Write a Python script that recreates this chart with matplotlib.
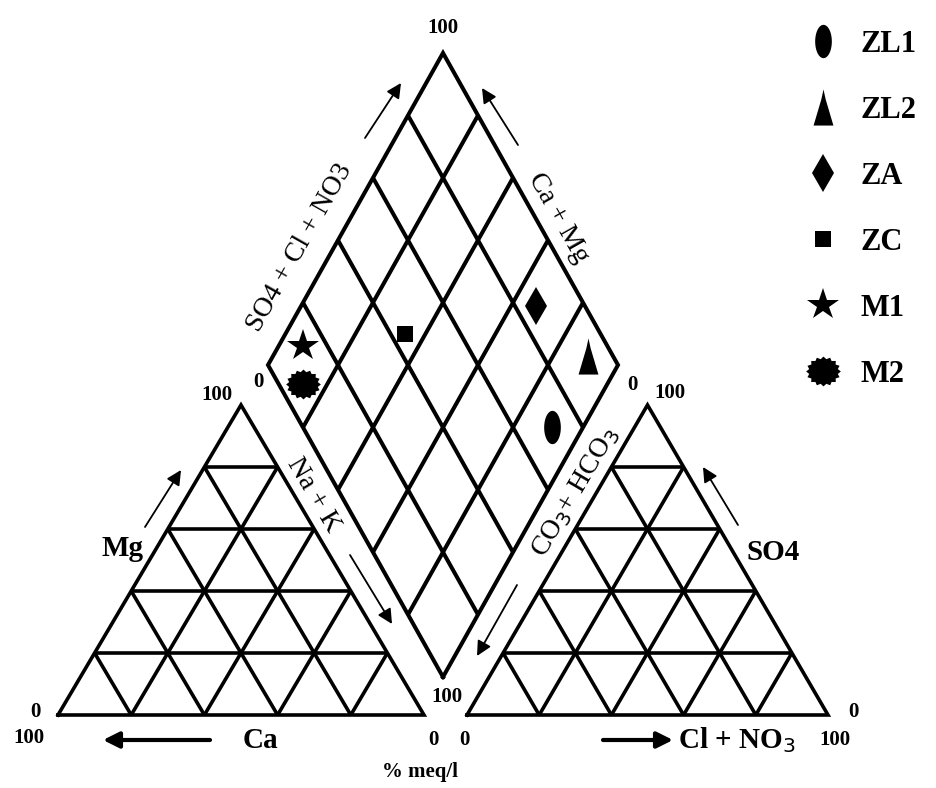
import numpy as np
import matplotlib
matplotlib.use("Agg")
import matplotlib.pyplot as plt

# ---------------- data ----------------
samples = ["ZL1", "ZL2", "ZA", "ZC", "M1", "M2"]
ca_mg = [9, 10, 33, 66, 93, 87]          # % meq/l Ca + Mg (cations)
so4_cl_no3 = [71, 93, 86, 44, 13, 7]     # % meq/l SO4 + Cl + NO3 (anions)
tick_labels_grid = 5                      # grid every 20 %

# ---------------- marker shapes ----------------
t = np.linspace(0, 2 * np.pi, 60)
ellipse = np.column_stack([0.5 * np.cos(t), np.sin(t)])
tall_tri = np.array([[-0.55, -1.0], [0.55, -1.0], [0.12, 0.45], [0.0, 1.0], [-0.12, 0.45], [-0.55, -1.0]])
tb = np.linspace(0, 2 * np.pi, 33)[:-1]
rb = np.where(np.arange(32) % 2 == 0, 1.0, 0.84)
burst = np.column_stack([rb * np.cos(tb), 0.86 * rb * np.sin(tb)])
markers = [ellipse, tall_tri, "d", "s", "*", burst]
msizes = [24, 26, 19, 12, 24, 25]

plt.rcParams["font.family"] = ["Liberation Serif", "DejaVu Serif"]
fig = plt.figure(figsize=(9.36, 7.88), dpi=100)
ax = fig.add_axes([0, 0, 1, 1])
ax.set_xlim(0, 936)
ax.set_ylim(788, 0)
ax.axis("off")

LW = 2.6
LWD = 2.9

# ---------------- geometry of the Piper frame ----------------
Ltri = (np.array([58.0, 715.0]), np.array([424.0, 715.0]), np.array([241.0, 405.0]))
Rtri = (np.array([467.0, 715.0]), np.array([828.0, 715.0]), np.array([647.5, 405.0]))
Dbot = np.array([443.0, 677.0])
Dleft = np.array([268.0, 365.0])
Dright = np.array([618.0, 365.0])
Dtop = Dleft + Dright - Dbot


def seg(p, q, lw):
    ax.plot([p[0], q[0]], [p[1], q[1]], color="black", lw=lw, solid_capstyle="butt", solid_joinstyle="miter")


def draw_triangle(A, B, C):
    ax.plot([A[0], B[0], C[0], A[0]], [A[1], B[1], C[1], A[1]], color="black", lw=LW, solid_joinstyle="miter")
    n = tick_labels_grid
    for i in range(1, n):
        f = i / n
        seg(A + f * (C - A), B + f * (C - B), LW)
        P = A + f * (B - A)
        seg(P, P + (1 - f) * (C - A), LW)
        seg(P, P + f * (C - B), LW)


draw_triangle(*Ltri)
draw_triangle(*Rtri)

ax.plot([Dbot[0], Dleft[0], Dtop[0], Dright[0], Dbot[0]],
        [Dbot[1], Dleft[1], Dtop[1], Dright[1], Dbot[1]], color="black", lw=LWD, solid_joinstyle="miter")
n = tick_labels_grid
for i in range(1, n):
    f = i / n
    P = Dbot + f * (Dleft - Dbot)
    seg(P, P + (Dright - Dbot), LWD)
    Q = Dbot + f * (Dright - Dbot)
    seg(Q, Q + (Dleft - Dbot), LWD)

# ---------------- sample points ----------------
handles = []
for name, c, a, m, s in zip(samples, ca_mg, so4_cl_no3, markers, msizes):
    p = Dbot + (c / 100.0) * (Dleft - Dbot) + (a / 100.0) * (Dright - Dbot)
    h, = ax.plot([p[0]], [p[1]], linestyle="none", marker=m, ms=s, color="black",
                 markeredgewidth=0, label=name)
    handles.append(h)

leg = ax.legend(handles=handles, loc="upper left", bbox_to_anchor=(0.843, 0.985),
                frameon=False, labelspacing=1.21, handlelength=1.0,
                handletextpad=0.75, borderaxespad=0.2,
                prop={"family": "Liberation Serif", "weight": "bold", "size": 22})

# ---------------- texts ----------------
num = dict(fontsize=15, fontweight="bold", ha="center", va="center")
for txt, x, y in [("100", 443, 28), ("0", 258, 382), ("0", 632, 385), ("100", 447, 697),
                  ("100", 217, 395), ("0", 35, 712), ("100", 29, 738), ("0", 433, 740),
                  ("0", 464, 740), ("100", 670, 393), ("0", 853, 712), ("100", 835, 740)]:
    ax.text(x, y, txt, **num)

lab = dict(fontsize=21, fontweight="bold", ha="center", va="center")
ax.text(122, 548, "Mg", **lab)
ax.text(260, 740, "Ca", **lab)
ax.text(773, 553, "SO4", **lab)
ax.text(737, 740, r"Cl + NO$_3$", **lab)
ax.text(420, 772, "% meq/l", fontsize=15, fontweight="bold", ha="center", va="center")

rot = dict(fontsize=20, ha="center", va="center", rotation_mode="anchor")
ax.text(313, 495, "Na + K", rotation=-59.5, **rot)
ax.text(576, 492, r"CO$_3$+ HCO$_3$", rotation=59.5, **rot)
ax.text(300, 248, "SO4 + Cl + NO3", rotation=60.5, **rot)
ax.text(558, 218, "Ca + Mg", rotation=-60.5, **rot)


def arrow(tail, head, lw, ms):
    ax.annotate("", xy=head, xytext=tail,
                arrowprops=dict(arrowstyle="-|>", lw=lw, color="black", mutation_scale=ms,
                                shrinkA=0, shrinkB=0))


arrow((145, 527), (181, 470), 1.3, 22)
arrow((210, 740), (103, 740), 3.0, 24)
arrow((350, 555), (392, 624), 1.3, 22)
arrow((517, 585), (477, 656), 1.3, 22)
arrow((738, 525), (703, 467), 1.3, 22)
arrow((603, 740), (673, 740), 3.0, 24)
arrow((365, 138), (401, 83), 1.3, 22)
arrow((518, 145), (482, 88), 1.3, 22)

fig.savefig("out.png", dpi=100, facecolor="white")
